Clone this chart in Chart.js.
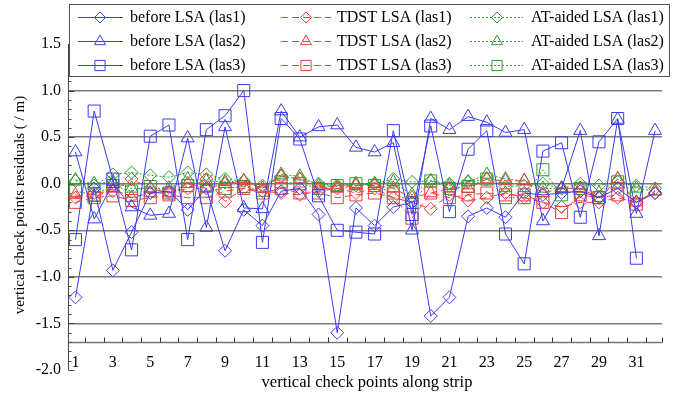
<!DOCTYPE html>
<html>
<head>
<meta charset="utf-8">
<script src="https://cdn.jsdelivr.net/npm/chart.js@4.4.1/dist/chart.umd.min.js"></script>
<style>
html,body{margin:0;padding:0;background:#fff;}
#wrap{width:682px;height:396px;position:relative;}
</style>
</head>
<body>
<div id="wrap"><canvas id="c" width="682" height="396"></canvas></div>
<script>
// ---------- data ----------
const xValues = [1,2,3,4,5,6,7,8,9,10,11,12,13,14,15,16,17,18,19,20,21,22,23,24,25,26,27,28,29,30,31,32];
const xLabelValues = [1,3,5,7,9,11,13,15,17,19,21,23,25,27,29,31];
const xTickLabels = ['1','3','5','7','9','11','13','15','17','19','21','23','25','27','29','31'];
const xMinorTickValues = [1.5,2.5,3.5,4.5,5.5,6.5,7.5,8.5,9.5,10.5,11.5,12.5,13.5,14.5,15.5,16.5,17.5,18.5,19.5,20.5,21.5,22.5,23.5,24.5,25.5,26.5,27.5,28.5,29.5,30.5,31.5,32.35];
const yTickValues = [-2.0,-1.5,-1.0,-0.5,0.0,0.5,1.0,1.5];
const yTickLabels = ['-2.0','-1.5','-1.0','-0.5','0.0','0.5','1.0','1.5'];
const xAxisLineValue = -1.7;

const beforeLas1 = [-1.22,-0.05,-0.93,-0.52,-0.10,-0.08,-0.28,-0.05,-0.72,-0.28,-0.45,-0.08,-0.05,-0.33,-1.60,-0.26,-0.45,-0.25,-0.20,-1.42,-1.22,-0.35,-0.26,-0.36,-0.10,-0.12,-0.10,-0.08,-0.15,-0.05,-0.20,-0.10];
const beforeLas2 = [0.34,-0.38,0.00,-0.25,-0.34,-0.32,0.49,-0.47,0.61,-0.26,-0.27,0.78,0.50,0.61,0.63,0.39,0.34,0.44,-0.50,0.70,0.58,0.72,0.66,0.55,0.58,-0.40,-0.05,0.57,-0.56,0.69,-0.32,0.57];
const beforeLas3 = [-0.60,0.78,0.05,-0.71,0.51,0.63,-0.60,0.58,0.73,1.00,-0.63,0.70,0.48,-0.13,-0.50,-0.52,-0.54,0.57,-0.33,0.62,-0.30,0.37,0.57,-0.54,-0.86,0.35,0.44,-0.36,0.45,0.70,-0.80,null];
const tdstLas1 = [-0.15,-0.10,-0.08,0.05,-0.05,-0.10,-0.05,0.05,-0.19,-0.05,-0.08,-0.10,-0.12,-0.08,-0.05,-0.10,-0.05,-0.15,-0.20,-0.27,-0.12,-0.18,-0.15,-0.10,-0.15,-0.20,-0.25,-0.20,-0.20,-0.15,-0.20,-0.10];
const tdstLas2 = [-0.12,-0.15,-0.05,-0.15,-0.10,-0.10,0.00,-0.05,0.00,0.03,-0.05,0.08,0.05,-0.05,-0.05,-0.02,-0.02,-0.05,-0.15,-0.10,-0.05,-0.05,0.05,0.03,0.03,-0.10,-0.05,-0.05,-0.15,0.05,-0.20,-0.08];
const tdstLas3 = [-0.20,-0.15,-0.13,-0.18,-0.15,-0.12,-0.15,-0.15,-0.08,-0.05,-0.10,-0.05,-0.10,-0.10,-0.15,-0.12,-0.10,-0.15,-0.37,-0.10,-0.15,-0.12,-0.10,-0.12,-0.12,-0.20,-0.31,-0.12,-0.15,-0.12,-0.22,null];
const atLas1 = [0.03,-0.02,0.10,0.12,0.09,0.07,0.12,0.10,0.05,0.03,-0.02,0.08,0.05,0.00,-0.02,-0.02,0.00,0.05,0.02,0.03,0.00,0.02,0.05,-0.03,-0.02,0.00,-0.05,0.00,-0.02,0.02,-0.02,-0.05];
const atLas2 = [0.04,0.00,0.02,-0.05,-0.05,-0.05,0.05,0.03,0.02,0.03,-0.05,0.10,0.08,-0.02,-0.03,0.00,0.00,0.02,-0.12,0.03,-0.02,0.02,0.10,0.05,0.03,-0.05,-0.05,-0.05,-0.10,0.05,-0.05,-0.08];
const atLas3 = [-0.08,-0.12,-0.02,-0.08,-0.03,-0.10,-0.02,-0.08,-0.05,-0.03,-0.07,0.02,0.00,-0.05,-0.02,0.00,-0.02,-0.10,-0.20,0.03,-0.05,-0.03,0.05,-0.15,-0.15,0.15,-0.12,-0.05,-0.15,0.02,-0.10,null];

const seriesNames = ['before LSA (las1)','before LSA (las2)','before LSA (las3)',
  'TDST LSA (las1)','TDST LSA (las2)','TDST LSA (las3)',
  'AT-aided LSA (las1)','AT-aided LSA (las2)','AT-aided LSA (las3)'];
const seriesValues = [beforeLas1,beforeLas2,beforeLas3,tdstLas1,tdstLas2,tdstLas3,atLas1,atLas2,atLas3];

// ---------- styles ----------
const BLUE = '#3c3cf0', RED = '#f03c3c', GREEN = '#2f9a2f';
const colors = [BLUE,BLUE,BLUE,RED,RED,RED,GREEN,GREEN,GREEN];
const dashes = [[],[],[],[7,4],[7,4],[7,4],[2,2],[2,2],[2,2]];
const shapes = ['rectRot','triangle','rect','rectRot','triangle','rect','rectRot','triangle','rect'];
const radii = {rectRot:6.5, triangle:7.5, rect:8.5};

const FONT = "'Liberation Serif','Times New Roman',serif";
Chart.defaults.font.family = FONT;
Chart.defaults.font.size = 16;
Chart.defaults.color = '#000';

const datasets = seriesValues.map((vals, i) => ({
  label: seriesNames[i],
  data: vals.map((v, j) => ({x: xValues[j], y: v})),
  borderColor: colors[i],
  backgroundColor: 'rgba(0,0,0,0)',
  borderWidth: 1,
  borderDash: dashes[i],
  pointStyle: shapes[i],
  pointRadius: radii[shapes[i]],
  pointBorderWidth: 1,
  pointBorderColor: colors[i],
  pointBackgroundColor: 'rgba(0,0,0,0)',
  pointHoverRadius: radii[shapes[i]],
  tension: 0,
  fill: false
}));

function drawMarker(ctx, shape, x, y, r) {
  ctx.beginPath();
  if (shape === 'rect') {
    const s = r * Math.SQRT1_2;
    ctx.rect(x - s, y - s, 2 * s, 2 * s);
  } else if (shape === 'rectRot') {
    ctx.moveTo(x, y - r); ctx.lineTo(x + r, y); ctx.lineTo(x, y + r); ctx.lineTo(x - r, y); ctx.closePath();
  } else {
    const a = 2 * Math.PI / 3;
    ctx.moveTo(x, y - r);
    ctx.lineTo(x + Math.sin(a) * r, y - Math.cos(a) * r);
    ctx.lineTo(x + Math.sin(2 * a) * r, y - Math.cos(2 * a) * r);
    ctx.closePath();
  }
  ctx.stroke();
}

const decor = {
  id: 'decor',
  beforeDatasetsDraw(chart) {
    const {ctx, chartArea: ca, scales: {x, y}} = chart;
    ctx.save();
    // x axis line
    const yb = Math.round(y.getPixelForValue(xAxisLineValue)) + 0.5;
    ctx.strokeStyle = '#7a7a7a'; ctx.lineWidth = 1.5;
    ctx.beginPath(); ctx.moveTo(ca.left, yb); ctx.lineTo(ca.right, yb); ctx.stroke();
    // x minor ticks (inward)
    ctx.strokeStyle = '#333'; ctx.lineWidth = 1;
    xMinorTickValues.forEach(v => {
      const px = Math.round(x.getPixelForValue(v)) + 0.5;
      ctx.beginPath(); ctx.moveTo(px, yb); ctx.lineTo(px, yb - 5); ctx.stroke();
    });
    // left axis line
    const lx = Math.round(ca.left) + 0.5;
    ctx.strokeStyle = '#444';
    ctx.beginPath(); ctx.moveTo(lx, y.getPixelForValue(1.5)); ctx.lineTo(lx, y.getPixelForValue(-2.0)); ctx.stroke();
    for (let k = -20; k <= 15; k++) {
      const py = Math.round(y.getPixelForValue(k / 10)) + 0.5;
      const len = (k % 5 === 0) ? 6 : 3;
      ctx.beginPath(); ctx.moveTo(lx, py); ctx.lineTo(lx + len, py); ctx.stroke();
    }
    ctx.restore();
  },
  afterDraw(chart) {
    const {ctx, chartArea: ca} = chart;
    ctx.save();
    // axis titles
    ctx.fillStyle = '#000';
    ctx.textAlign = 'center'; ctx.textBaseline = 'middle';
    ctx.font = '16.5px ' + FONT;
    ctx.fillText('vertical check points along strip', (ca.left + ca.right) / 2 + 2, 383);
    ctx.save();
    ctx.font = '15px ' + FONT;
    ctx.translate(20, (ca.top + ca.bottom) / 2 - 2);
    ctx.rotate(-Math.PI / 2);
    ctx.fillText('vertical check points residuals ( / m)', 0, 0);
    ctx.restore();
    // legend
    ctx.font = '16px ' + FONT;
    const bx = 69.5, by = 4.5, bw = 600, bh = 72;
    ctx.fillStyle = '#fff';
    ctx.fillRect(bx, by, bw, bh);
    ctx.strokeStyle = '#555'; ctx.lineWidth = 1;
    ctx.strokeRect(bx, by, bw, bh);
    const colX = [[78, 123, 100, 130], [281, 331, 306, 337], [470, 523, 497, 531]];
    const rowY = [17, 41, 65];
    for (let i = 0; i < 9; i++) {
      const c = Math.floor(i / 3), r = i % 3;
      const [x0, x1, mx, tx] = colX[c];
      const yy = rowY[r] + 0.5;
      ctx.strokeStyle = colors[i];
      ctx.setLineDash(dashes[i]);
      ctx.lineWidth = 1;
      ctx.beginPath(); ctx.moveTo(x0, yy); ctx.lineTo(x1, yy); ctx.stroke();
      ctx.setLineDash([]);
      drawMarker(ctx, shapes[i], mx, yy, radii[shapes[i]] * 0.85);
      ctx.fillStyle = '#000';
      ctx.textAlign = 'left'; ctx.textBaseline = 'middle';
      ctx.fillText(seriesNames[i], tx, rowY[r] + 1);
    }
    ctx.restore();
  }
};

new Chart(document.getElementById('c'), {
  type: 'line',
  data: {datasets},
  options: {
    responsive: false,
    animation: false,
    devicePixelRatio: 1,
    layout: {padding: {left: 0, right: 20, top: 44, bottom: 26}},
    plugins: {legend: {display: false}, tooltip: {enabled: false}},
    scales: {
      x: {
        type: 'linear',
        position: {y: xAxisLineValue},
        min: 0.6,
        max: 32.37,
        afterFit: s => { s.height = 26; },
        afterBuildTicks: s => { s.ticks = xLabelValues.map(v => ({value: v})); },
        grid: {display: false, drawTicks: false},
        border: {display: false},
        ticks: {
          autoSkip: false, maxRotation: 0, padding: 11,
          callback: (v) => { const k = xLabelValues.indexOf(v); return k >= 0 ? xTickLabels[k] : ''; },
          font: {size: 16}
        }
      },
      y: {
        type: 'linear',
        min: -2.0,
        max: 1.5,
        afterFit: s => { s.width = 68; },
        afterBuildTicks: s => { s.ticks = yTickValues.map(v => ({value: v})); },
        grid: {
          drawTicks: false,
          lineWidth: 1.5,
          color: c => (c.tick && (c.tick.value <= -2 || c.tick.value >= 1.5)) ? 'rgba(0,0,0,0)' : '#7a7a7a'
        },
        border: {display: false},
        ticks: {
          padding: 7,
          callback: (v) => { const k = yTickValues.indexOf(v); return k >= 0 ? yTickLabels[k] : ''; },
          font: {size: 16}
        }
      }
    }
  },
  plugins: [decor]
});
</script>
</body>
</html>
